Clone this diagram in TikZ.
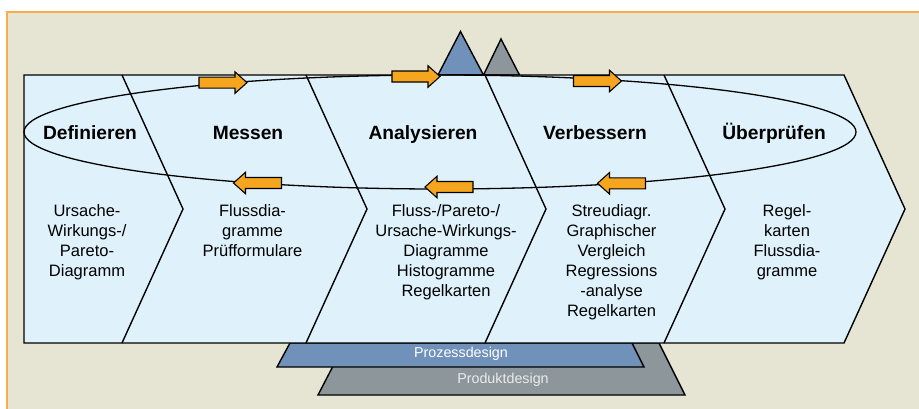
\documentclass[tikz,border=0pt]{standalone}
\usepackage{fontspec}
\setmainfont{Liberation Sans}
\definecolor{bgbeige}{HTML}{E6E5D3}
\definecolor{frameorange}{HTML}{F8AE48}
\definecolor{chevblue}{HTML}{DFF2FB}
\definecolor{arroworange}{HTML}{F6A51E}
\definecolor{steelblue}{HTML}{7091B9}
\definecolor{slategray}{HTML}{8D969B}
\tikzset{
  outline/.style={draw=black, line width=1.4pt, line join=miter},
  flowarrow/.pic={
    \filldraw[fill=arroworange, draw=black, line width=1.1pt, line join=miter]
      (-24,-5.5) -- (12,-5.5) -- (12,-10.75) -- (24,0) -- (12,10.75) -- (12,5.5) -- (-24,5.5) -- cycle;
  },
  stagelabel/.style={font=\fontsize{19.2}{22}\selectfont\bfseries, anchor=base, inner sep=0pt},
  bodytext/.style={font=\fontsize{16.5}{20}\selectfont, align=center, anchor=base, inner sep=0pt},
  designtext/.style={font=\fontsize{14.3}{16}\selectfont, anchor=center, inner sep=0pt}
}
\begin{document}
\begin{tikzpicture}[x=1pt,y=-1pt]
\useasboundingbox (0,0) rectangle (919,408);
\clip (0,0) rectangle (919,408);
\fill[white] (0,0) rectangle (919,408);
% background frame
\filldraw[fill=bgbeige, draw=frameorange, line width=1.6pt] (7,12) rectangle (940,430);
% bottom trapezoids
\filldraw[fill=slategray, outline] (345,343) -- (659,343) -- (685,395) -- (318,395) -- cycle;
\filldraw[fill=steelblue, outline] (290,343) -- (632,343) -- (644,367) -- (277,367) -- cycle;
\node[designtext, text=white] (proz) at (461,353.5) {Prozessdesign};
\node[designtext, text=white!92!black] (prod) at (503,380) {Produktdesign};
% triangles
\filldraw[fill=steelblue, outline] (438,75) -- (460.5,31.5) -- (483.5,75) -- cycle;
\filldraw[fill=slategray, outline] (483.5,75) -- (501,39) -- (519.5,75) -- cycle;
% chevrons
\filldraw[fill=chevblue, outline] (24,75) -- (844,75) -- (905,209) -- (844,343) -- (24,343) -- cycle;
\foreach \xx in {122,306,485,664}{
  \draw[outline] (\xx,75) -- (\xx+61,209) -- (\xx,343);
}
% ellipse
\draw[line width=1.3pt] (440,132) ellipse [x radius=416, y radius=57];
% arrows
\pic (a1) at (223,82.6) {flowarrow};
\pic (a2) at (416,76.5) {flowarrow};
\pic (a3) at (597.5,81) {flowarrow};
\pic[xscale=-1] (a4) at (257.5,183) {flowarrow};
\pic[xscale=-1] (a5) at (449,187) {flowarrow};
\pic[xscale=-1] (a6) at (621.5,183.3) {flowarrow};
% stage labels
\node[stagelabel] (s1) at (90,139.3) {Definieren};
\node[stagelabel] (s2) at (248,139.3) {Messen};
\node[stagelabel] (s3) at (423,139.3) {Analysieren};
\node[stagelabel] (s4) at (595,139.3) {Verbessern};
\node[stagelabel] (s5) at (774,139.3) {Überprüfen};
% tools (anchor = baseline of last line)
\node[bodytext] (t1) at (87,276.6) {Ursache-\\Wirkungs-/\\Pareto-\\Diagramm};
\node[bodytext] (t2) at (252.5,256.6) {Flussdia-\\gramme\\Prüfformulare};
\node[bodytext] (t3) at (446,296.6) {Fluss-/Pareto-/\\Ursache-Wirkungs-\\Diagramme\\Histogramme\\Regelkarten};
\node[bodytext] (t4) at (611.5,316.6) {Streudiagr.\\Graphischer\\Vergleich\\Regressions\\-analyse\\Regelkarten};
\node[bodytext] (t5) at (787,276.6) {Regel-\\karten\\Flussdia-\\gramme};
\end{tikzpicture}
\end{document}
